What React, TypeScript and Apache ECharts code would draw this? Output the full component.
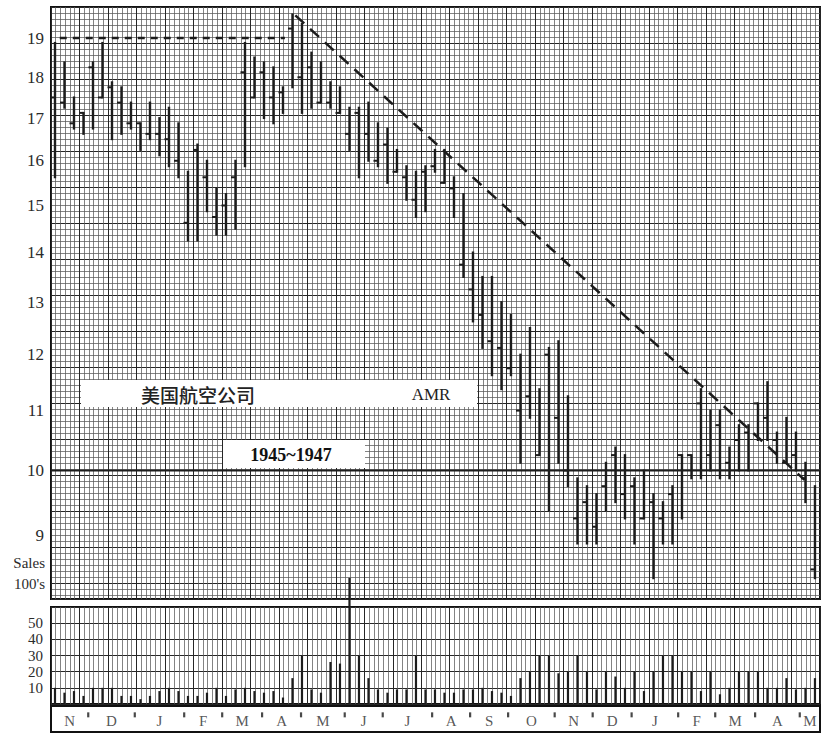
import React, { useEffect, useRef } from "react";
import * as echarts from "echarts";

// ---- data (weekly bars, Nov 1945 – May 1947) ----
const highs = [
  18.875, 18.375, 17.5, 17.125, 18.375, 18.875, 17.875, 17.75, 17.375, 16.875,
  17.375, 17, 17.25, 16.875, 15.75, 16.375, 16, 15.375, 15.25, 16,
  18.875, 18.5, 18.375, 18.25, 17.75, 19.625, 19.375, 18.625, 18.375, 17.875,
  17.75, 17.25, 17.25, 17.375, 16.875, 16.75, 16.25, 15.875, 15.75, 15.875,
  16.25, 16.25, 15.625, 15.25, 14, 13.5, 13.5, 13, 12.75, 12,
  12.5, 11.375, 12.125, 12.25, 11.25, 9.875, 9.75, 9.625, 10.125, 10.375,
  10.25, 9.875, 10, 9.625, 9.5, 9.75, 10.25, 10.25, 11.375, 11,
  11, 10.375, 10.75, 10.75, 11.125, 11.5, 10.625, 10.875, 10.625, 10.125,
  9.75,
];
const lows = [
  15.625, 17.25, 16.75, 16.625, 16.75, 17.5, 16.5, 16.625, 16.75, 16.25,
  16.5, 16.125, 15.875, 15.625, 14.25, 14.25, 14.875, 14.375, 14.375, 14.5,
  15.875, 17.5, 17, 16.875, 17.125, 17.75, 17.125, 17.25, 17.375, 17.25,
  17.125, 16.25, 15.625, 16, 15.875, 15.5, 15.75, 15.125, 14.75, 14.875,
  15.75, 15.5, 14.75, 13.5, 12.625, 12.125, 11.625, 11.375, 11.625, 10.125,
  10.875, 10.25, 9.375, 10.125, 9.75, 8.875, 8.875, 8.875, 9.375, 9.5,
  9.25, 8.875, 9.25, 8.375, 8.875, 8.875, 9.25, 9.875, 9.875, 10,
  9.875, 9.875, 10, 10, 10.5, 10.5, 10.125, 10.125, 10, 9.5,
  8.375,
];
const closes = [
  17.5, 17.375, 16.875, 17.125, 18.25, 17.5, 17.75, 17.375, 16.875, 16.875,
  16.625, 16.625, 16.5, 16, 14.625, 16.25, 15.625, 14.75, 15, 15.625,
  18.125, 17.5, 18.125, 17.5, 17.625, 19.25, 18, 18.25, 17.375, 17.375,
  17.125, 16.625, 17.125, 16.625, 16, 16.375, 15.75, 15.625, 15.125, 15.75,
  15.875, 15.5, 15.375, 13.75, 13.25, 12.75, 12.25, 12.125, 11.75, 11,
  11.25, 10.25, 12, 10.875, 10, 9.25, 9.5, 9.125, 9.75, 10.25,
  9.625, 9.75, 9.25, 9.5, 9.25, 9.625, 10.25, 10.25, 11.125, 10.25,
  10.75, 10.125, 10.5, 10.625, 11.125, 10.875, 10.5, 10.125, 10.25, 9.875,
  8.5,
];
const volumes = [
  10, 7, 8, 5, 10, 10, 10, 5, 5, 3,
  5, 8, 10, 8, 5, 5, 7, 10, 5, 9,
  10, 8, 7, 8, 4, 16, 30, 9, 7, 26,
  25, 78, 30, 16, 9, 7, 9, 9, 30, 9,
  9, 7, 7, 9, 9, 10, 8, 7, 5, 16,
  20, 30, 30, 19, 20, 30, 20, 9, 20, 17,
  10, 20, 8, 20, 30, 30, 20, 20, 8, 20,
  6, 10, 20, 20, 20, 10, 10, 16, 9, 10,
  16,
];
const priceTicks = [9, 10, 11, 12, 13, 14, 15, 16, 17, 18, 19];
const volumeTicks = [10, 20, 30, 40, 50];
const months = ["N", "D", "J", "F", "M", "A", "M", "J", "J", "A", "S", "O", "N", "D", "J", "F", "M", "A", "M"];
// month boundaries, in week index units
const monthBoundaries = [3.5, 8.4, 13.6, 17.6, 21.8, 25.9, 30.5, 34.5, 39.7, 43.7, 47.7, 52.6, 56.6, 60.7, 65.6, 69.5, 73.7, 78.4];
// trend lines [week, price]
const resistanceLine = [[0.5, 19], [24.2, 19]];
const downTrendLine = [[25.3, 19.6], [78.9, 9.85]];
const baseLine = [[-0.42, 10], [80.53, 10]];

// chart-paper price scale (fourth-root ratio ruling)
const f = (p: number) => Math.pow(p, 0.25);
const fInv = (v: number) => Math.pow(v, 4);

const XMIN = -0.42;
const XMAX = 80.53;
const FMIN = 1.686296;
const FMAX = 2.110061;

const SERIF = '"Liberation Serif", "DejaVu Serif", serif';
const INK = "#1c1c1c";
const MAJOR = "#262626";
const MINOR = "#5a5a5a";

export default function App() {
  const ref = useRef<HTMLDivElement>(null);

  useEffect(() => {
    document.body.style.margin = "0";
    const chart = echarts.init(ref.current!, null, { renderer: "svg" });

    const barData = highs.map((h, i) => [i, f(h), f(lows[i]), f(closes[i])]);
    const volData = volumes.map((v, i) => [i, v]);

    const bounds = [XMIN, ...monthBoundaries, XMAX];
    const monthLabelData = months.map((m, i) => ({
      value: [(bounds[i] + bounds[i + 1]) / 2, 0.42],
      name: m,
    }));
    const monthTickData = monthBoundaries.map((b) => [b, 0.66]);

    const hiddenX = (gridIndex: number) => ({
      type: "value",
      gridIndex,
      min: XMIN,
      max: XMAX,
      show: false,
      splitLine: { show: false },
    });
    const paperX = (gridIndex: number) => ({
      type: "value",
      gridIndex,
      min: 0,
      max: 27,
      interval: 1,
      axisLine: { show: false },
      axisTick: { show: false },
      axisLabel: { show: false },
      splitLine: { show: true, lineStyle: { color: MAJOR, width: 1 } },
      minorTick: { show: false, splitNumber: 6 },
      minorSplitLine: { show: true, lineStyle: { color: MINOR, width: 0.75 } },
    });

    const option: any = {
      animation: false,
      backgroundColor: "#ffffff",
      grid: [
        { left: 51, top: 7, width: 769, height: 592, show: true, borderColor: "#111", borderWidth: 2, backgroundColor: "#fff" },
        { left: 51, top: 607, width: 769, height: 97, show: true, borderColor: "#111", borderWidth: 2, backgroundColor: "#fff" },
        { left: 51, top: 706, width: 769, height: 26, show: true, borderColor: "#111", borderWidth: 2, backgroundColor: "#fff" },
      ],
      xAxis: [hiddenX(0), paperX(0), hiddenX(1), paperX(1), hiddenX(2)],
      yAxis: [
        {
          type: "value",
          gridIndex: 0,
          min: FMIN,
          max: FMAX,
          axisLine: { show: false },
          axisTick: { show: false },
          splitLine: { show: false },
          axisLabel: {
            customValues: priceTicks.map(f),
            formatter: (v: number) => String(Math.round(fInv(v))),
            fontFamily: SERIF,
            fontSize: 17,
            color: "#2b2b2b",
            margin: 7,
            showMinLabel: true,
            showMaxLabel: true,
          },
        },
        {
          type: "value",
          gridIndex: 0,
          inverse: true,
          min: 0,
          max: 16.44,
          interval: 1,
          axisLine: { show: false },
          axisTick: { show: false },
          axisLabel: { show: false },
          splitLine: { show: true, lineStyle: { color: MAJOR, width: 1 } },
          minorTick: { show: false, splitNumber: 6 },
          minorSplitLine: { show: true, lineStyle: { color: MINOR, width: 0.75 } },
        },
        {
          type: "value",
          gridIndex: 1,
          min: 0,
          max: 60,
          interval: 10,
          axisLine: { show: false },
          axisTick: { show: false },
          splitLine: { show: true, lineStyle: { color: MAJOR, width: 1 } },
          axisLabel: {
            customValues: volumeTicks,
            formatter: (v: number) => String(v),
            fontFamily: SERIF,
            fontSize: 15,
            lineHeight: 15,
            color: "#2b2b2b",
            margin: 8,
            showMinLabel: true,
            showMaxLabel: true,
          },
        },
        { type: "value", gridIndex: 2, min: 0, max: 1, show: false, splitLine: { show: false } },
      ],
      series: [
        {
          type: "custom",
          name: "price",
          xAxisIndex: 0,
          yAxisIndex: 0,
          data: barData,
          encode: { x: 0, y: [1, 2, 3] },
          z: 5,
          renderItem: (params: any, api: any) => {
            const x = api.value(0);
            const pHi = api.coord([x, api.value(1)]);
            const pLo = api.coord([x, api.value(2)]);
            const pCl = api.coord([x, api.value(3)]);
            return {
              type: "group",
              children: [
                {
                  type: "line",
                  shape: { x1: pHi[0], y1: pHi[1] - 1, x2: pLo[0], y2: pLo[1] + 1 },
                  style: { stroke: INK, lineWidth: 2.4 },
                },
                {
                  type: "line",
                  shape: { x1: pCl[0] - 4.5, y1: pCl[1], x2: pCl[0], y2: pCl[1] },
                  style: { stroke: INK, lineWidth: 2 },
                },
              ],
            };
          },
        },
        {
          type: "line",
          name: "ten",
          xAxisIndex: 0,
          yAxisIndex: 0,
          data: baseLine.map(([x, p]) => [x, f(p)]),
          showSymbol: false,
          lineStyle: { color: INK, width: 2.2 },
          z: 4,
        },
        {
          type: "line",
          name: "resistance",
          xAxisIndex: 0,
          yAxisIndex: 0,
          data: resistanceLine.map(([x, p]) => [x, f(p)]),
          showSymbol: false,
          lineStyle: { color: INK, width: 2.5, type: [7, 6] },
          z: 6,
        },
        {
          type: "line",
          name: "downtrend",
          xAxisIndex: 0,
          yAxisIndex: 0,
          data: downTrendLine.map(([x, p]) => [x, f(p)]),
          showSymbol: false,
          lineStyle: { color: INK, width: 2.5, type: [12, 8] },
          z: 6,
        },
        {
          type: "bar",
          name: "volume",
          xAxisIndex: 2,
          yAxisIndex: 2,
          data: volData,
          barWidth: 2.2,
          clip: false,
          itemStyle: { color: INK },
          z: 5,
        },
        {
          type: "scatter",
          name: "monthTicks",
          xAxisIndex: 4,
          yAxisIndex: 3,
          data: monthTickData,
          symbol: "rect",
          symbolSize: [2.2, 5],
          itemStyle: { color: INK },
        },
        {
          type: "scatter",
          name: "months",
          xAxisIndex: 4,
          yAxisIndex: 3,
          data: monthLabelData,
          symbolSize: 0,
          label: {
            show: true,
            position: "inside",
            formatter: "{b}",
            fontFamily: SERIF,
            fontSize: 15,
            color: "#2b2b2b",
          },
        },
      ],
      graphic: [
        { type: "rect", z: 10, shape: { x: 81, y: 380, width: 396, height: 27 }, style: { fill: "#fff" } },
        {
          type: "text", z: 11, x: 198, y: 394,
          style: { text: "美国航空公司", fontFamily: '"Noto Sans CJK SC", sans-serif', fontSize: 19, fontWeight: 500, fill: "#222", align: "center", verticalAlign: "middle" },
        },
        {
          type: "text", z: 11, x: 431, y: 394,
          style: { text: "AMR", fontFamily: SERIF, fontSize: 17, fill: "#222", align: "center", verticalAlign: "middle" },
        },
        { type: "rect", z: 10, shape: { x: 223, y: 440, width: 142, height: 28 }, style: { fill: "#fff" } },
        {
          type: "text", z: 11, x: 291, y: 455,
          style: { text: "1945~1947", fontFamily: SERIF, fontSize: 18, fontWeight: "bold", fill: "#111", align: "center", verticalAlign: "middle" },
        },
        {
          type: "text", z: 11, x: 45, y: 563,
          style: { text: "Sales", fontFamily: SERIF, fontSize: 15, fill: "#2b2b2b", align: "right", verticalAlign: "middle" },
        },
        {
          type: "text", z: 11, x: 45, y: 584,
          style: { text: "100's", fontFamily: SERIF, fontSize: 15, fill: "#2b2b2b", align: "right", verticalAlign: "middle" },
        },
      ],
    };

    chart.setOption(option);
    return () => chart.dispose();
  }, []);

  return <div ref={ref} style={{ position: "absolute", left: 0, top: 0, width: 833, height: 742, background: "#fff" }} />;
}
